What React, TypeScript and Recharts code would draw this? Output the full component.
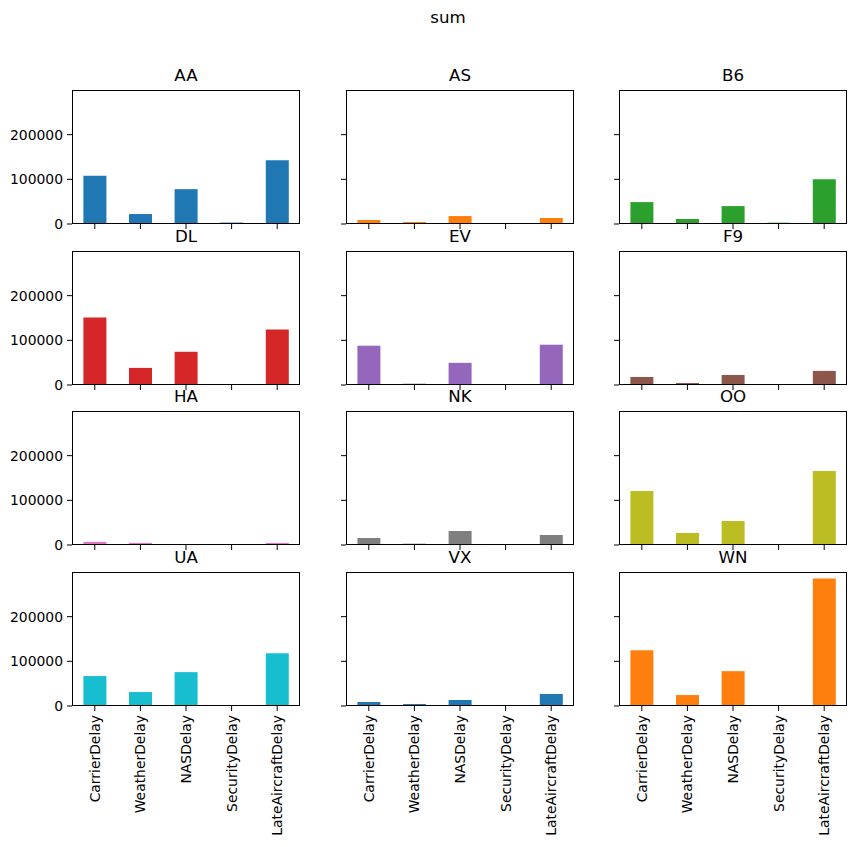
import { Bar, BarChart, XAxis, YAxis } from "recharts"

const delayTypes = ["CarrierDelay", "WeatherDelay", "NASDelay", "SecurityDelay", "LateAircraftDelay"]
const yTicks = [0, 100000, 200000]

// summed delay minutes per carrier, same order as delayTypes
const AA = [107800, 22300, 78000, 3200, 142700]
const AS = [8900, 4500, 17800, 0, 13400]
const B6 = [49000, 11200, 40100, 3000, 100400]
const DL = [151000, 38300, 74400, 0, 124000]
const EV = [88000, 3000, 49600, 0, 90200]
const F9 = [18000, 4500, 22500, 0, 31600]
const HA = [7000, 4700, 0, 0, 4700]
const NK = [15700, 3000, 31300, 0, 22400]
const OO = [121000, 26900, 53700, 0, 165700]
const UA = [67000, 31200, 75800, 0, 118200]
const VX = [8900, 4500, 13400, 0, 26800]
const WN = [124900, 24500, 78000, 0, 285500]

const carriers = ["AA", "AS", "B6", "DL", "EV", "F9", "HA", "NK", "OO", "UA", "VX", "WN"]
const sums = [AA, AS, B6, DL, EV, F9, HA, NK, OO, UA, VX, WN]
const colors = [
  "#1f77b4", "#ff7f0e", "#2ca02c", "#d62728", "#9467bd", "#8c564b",
  "#e377c2", "#7f7f7f", "#bcbd22", "#17becf", "#1f77b4", "#ff7f0e",
]

const font = "'DejaVu Sans', sans-serif"
const colLeft = [72, 346, 619]
const rowTop = [90, 251, 411, 572]
const plotW = 228
const plotH = 134

function XLabel(props: any) {
  const { x, y, payload } = props
  return (
    <text
      x={x}
      y={y}
      transform={`rotate(-90, ${x}, ${y})`}
      textAnchor="end"
      dominantBaseline="central"
      fontSize={13.9}
      fill="#000"
      fontFamily={font}
    >
      {payload.value}
    </text>
  )
}

const noLabel = () => <g />

function Panel({ idx }: { idx: number }) {
  const row = Math.floor(idx / 3)
  const col = idx % 3
  const bottom = row === 3
  const yw = col === 0 ? 72 : 12
  const xh = bottom ? 140 : 14
  const data = delayTypes.map((name, i) => ({ name, value: sums[idx][i] }))
  const left = colLeft[col]
  const top = rowTop[row]

  return (
    <>
      <div
        style={{
          position: "absolute",
          left,
          top: top - 24,
          width: plotW,
          height: 20,
          lineHeight: "20px",
          textAlign: "center",
          fontSize: 16.67,
          fontFamily: font,
          color: "#000",
        }}
      >
        {carriers[idx]}
      </div>
      <div style={{ position: "absolute", left: left - yw, top }}>
        <BarChart
          width={yw + plotW}
          height={plotH + xh}
          data={data}
          margin={{ top: 0, right: 0, bottom: 0, left: 0 }}
          barCategoryGap="25%"
        >
          <XAxis
            dataKey="name"
            interval={0}
            height={xh}
            axisLine={false}
            tickLine={{ stroke: "#000" }}
            tickSize={5}
            tickMargin={4}
            tick={bottom ? XLabel : noLabel}
          />
          <YAxis
            width={yw}
            domain={[0, 300000]}
            ticks={yTicks}
            axisLine={false}
            tickLine={{ stroke: "#000" }}
            tickSize={5}
            tickMargin={4}
            tick={col === 0 ? { fill: "#000", fontSize: 13.9, fontFamily: font } : noLabel}
          />
          <Bar dataKey="value" fill={colors[idx]} isAnimationActive={false} />
        </BarChart>
      </div>
      <div
        style={{
          position: "absolute",
          left,
          top,
          width: plotW,
          height: plotH,
          border: "1px solid #000",
          boxSizing: "border-box",
          pointerEvents: "none",
        }}
      />
    </>
  )
}

export default function App() {
  return (
    <div
      style={{
        position: "absolute",
        left: 0,
        top: 0,
        width: 857,
        height: 847,
        background: "#fff",
        fontFamily: font,
      }}
    >
      <div
        style={{
          position: "absolute",
          left: 348,
          top: 8,
          width: 200,
          height: 20,
          lineHeight: "20px",
          textAlign: "center",
          fontSize: 16.67,
          color: "#000",
        }}
      >
        sum
      </div>
      {carriers.map((_, i) => (
        <Panel key={i} idx={i} />
      ))}
    </div>
  )
}
